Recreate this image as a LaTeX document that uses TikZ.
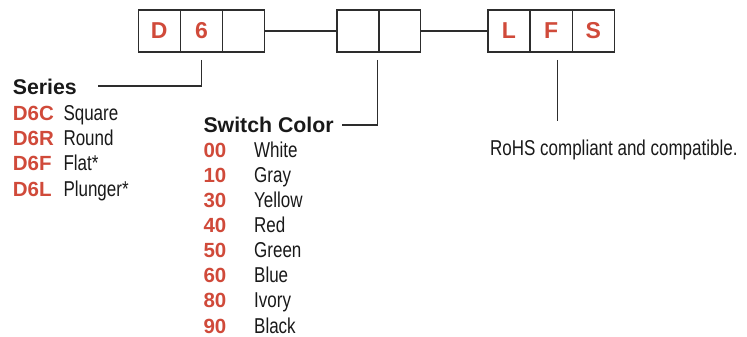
\documentclass[tikz,border=0pt]{standalone}
\usepackage{fontspec}
\setmainfont{Liberation Sans}
\newfontfamily\condfont[FakeStretch=0.79]{Liberation Sans}
\definecolor{codered}{RGB}{208,74,58}
\definecolor{linegray}{RGB}{45,45,45}
\tikzset{
  cell/.style={draw=linegray, line width=1.3pt, minimum width=42pt, minimum height=42pt, inner sep=0pt,
     font=\fontsize{23}{26}\selectfont\bfseries, text=codered},
  conn/.style={draw=linegray, line width=1.2pt},
  head/.style={anchor=base west, inner sep=0pt, font=\fontsize{21.3}{24}\selectfont\bfseries, text=black!90},
  code/.style={anchor=base west, inner sep=0pt, font=\fontsize{20.5}{24}\selectfont\bfseries, text=codered},
  desc/.style={anchor=base west, inner sep=0pt, font=\fontsize{21.5}{24}\selectfont\condfont, text=black!90}
}
\begin{document}
\begin{tikzpicture}[x=1pt,y=-1pt]
\path[use as bounding box] (0,0) rectangle (747,337);
% boxes
\node[cell] (b1) at (159.3,31) {D};
\node[cell] (b2) at (201.5,31) {6};
\node[cell] (b3) at (243.5,31) {};
\node[cell] (b4) at (358.0,31) {};
\node[cell] (b5) at (399.2,31) {};
\node[cell] (b6) at (509.0,31) {L};
\node[cell] (b7) at (551.2,31) {F};
\node[cell] (b8) at (593.3,31) {S};
\draw[conn] (b3.east) -- (b4.west);
\draw[conn] (b5.east) -- (b6.west);
% series
\node[head] (series) at (12.7,94.3) {Series};
\node[code] (c1) at (12.7,120.5) {D6C};
\node[code] (c2) at (12.7,145.8) {D6R};
\node[code] (c3) at (12.7,170.9) {D6F};
\node[code] (c4) at (12.7,196.0) {D6L};
\node[desc] (d1) at (63.3,120.5) {Square};
\node[desc] (d2) at (63.3,145.8) {Round};
\node[desc] (d3) at (63.3,170.9) {Flat*};
\node[desc] (d4) at (63.3,196.0) {Plunger*};
\coordinate (s1) at (201.7,60);
\coordinate (s2) at (97.7,86);
\draw[conn] (s1) |- (s2);
% switch color
\node[head] (sc) at (203.3,132.7) {Switch Color};
\coordinate (w1) at (377.2,60);
\coordinate (w2) at (341.7,125);
\draw[conn] (w1) |- (w2);
\foreach \n/\c/\t/\y in {k0/00/White/157.3, k1/10/Gray/182.3, k2/30/Yellow/207.3, k3/40/Red/232.4,
                          k4/50/Green/257.5, k5/60/Blue/282.6, k6/80/Ivory/307.7, k7/90/Black/333.0} {
  \node[code] (\n c) at (203.3,\y) {\c};
  \node[desc] (\n d) at (254.0,\y) {\t};
}
% rohs
\node[desc] (rohs) at (490,155.7) {RoHS compliant and compatible.};
\coordinate (r1) at (557.2,60);
\coordinate (r2) at (557.2,121);
\draw[conn] (r1) -- (r2);
\end{tikzpicture}
\end{document}
